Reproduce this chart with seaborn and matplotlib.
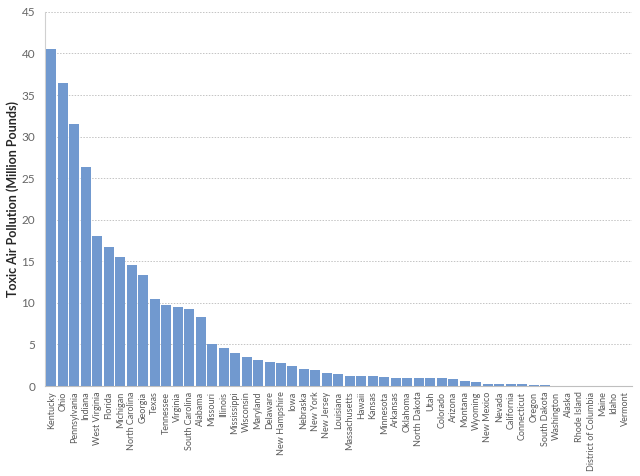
import matplotlib
matplotlib.use("Agg")
import matplotlib.pyplot as plt
import seaborn as sns
import pandas as pd

states = ["Kentucky", "Ohio", "Pennsylvania", "Indiana", "West Virginia", "Florida",
          "Michigan", "North Carolina", "Georgia", "Texas", "Tennessee", "Virginia",
          "South Carolina", "Alabama", "Missouri", "Illinois", "Mississippi", "Wisconsin",
          "Maryland", "Delaware", "New Hampshire", "Iowa", "Nebraska", "New York",
          "New Jersey", "Louisiana", "Massachusetts", "Hawaii", "Kansas", "Minnesota",
          "Arkansas", "Oklahoma", "North Dakota", "Utah", "Colorado", "Arizona",
          "Montana", "Wyoming", "New Mexico", "Nevada", "California", "Connecticut",
          "Oregon", "South Dakota", "Washington", "Alaska", "Rhode Island",
          "District of Columbia", "Maine", "Idaho", "Vermont"]
pollution = [40.5, 36.4, 31.5, 26.3, 18.1, 16.7,
             15.5, 14.6, 13.3, 10.5, 9.7, 9.5,
             9.3, 8.3, 5.05, 4.6, 3.95, 3.5,
             3.1, 2.9, 2.8, 2.4, 2.1, 1.9,
             1.6, 1.4, 1.25, 1.17, 1.17, 1.12,
             0.95, 0.95, 0.95, 0.93, 0.92, 0.88,
             0.62, 0.5, 0.28, 0.22, 0.22, 0.2,
             0.13, 0.12, 0.06, 0.05, 0.05, 0.05, 0.04, 0.02, 0.01]
yticks = [0, 5, 10, 15, 20, 25, 30, 35, 40, 45]

df = pd.DataFrame({"state": states, "value": pollution})

sns.set_theme(style="white")
plt.rcParams['font.family'] = ['Lato', 'DejaVu Sans']

fig = plt.figure(figsize=(6.4, 4.76), dpi=100)
ax = fig.add_axes([0.0703, 0.189, 0.917, 0.786])

sns.barplot(data=df, x="state", y="value", color="#7199CF", saturation=1,
            width=0.87, edgecolor="none", ax=ax, zorder=3)

ax.set_ylim(0, 45)
ax.set_yticks(yticks)
ax.set_xlim(-0.55, len(states) - 0.45)
ax.yaxis.grid(True, color="#C4C4C4", linestyle=(0, (1.5, 1.5)), linewidth=0.7, zorder=0)
ax.xaxis.grid(False)

for s in ["top", "right"]:
    ax.spines[s].set_visible(False)
ax.spines["left"].set_color("#D0D0D0")
ax.spines["left"].set_linewidth(0.8)
ax.spines["bottom"].set_color("#BFBFBF")
ax.spines["bottom"].set_linewidth(0.8)

ax.tick_params(axis="y", labelsize=8.5, colors="#666666", length=0, pad=7)
ax.tick_params(axis="x", labelsize=6.5, colors="#595959", length=0, pad=4)
plt.setp(ax.get_xticklabels(), rotation=90, ha="center", va="top")

ax.set_xlabel("")
ax.set_ylabel("Toxic Air Pollution (Million Pounds)", fontsize=9, fontweight="bold",
              color="#262626")
ax.yaxis.set_label_coords(-0.045, 0.5)

fig.savefig("out.png", dpi=100)
